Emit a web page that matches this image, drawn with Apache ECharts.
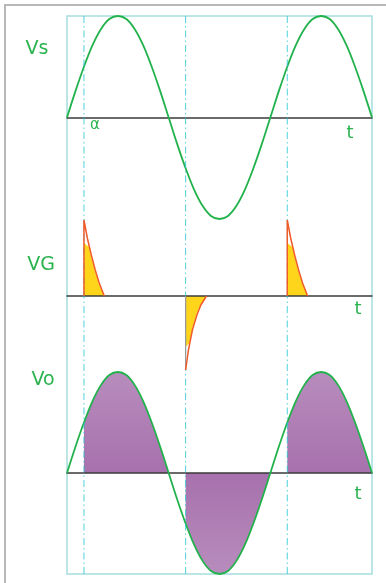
<!DOCTYPE html>
<html>
<head>
<meta charset="utf-8">
<script src="https://cdn.jsdelivr.net/npm/echarts@6/dist/echarts.min.js"></script>
<style>
html,body{margin:0;padding:0;background:#fff;}
#c{width:386px;height:583px;}
</style>
</head>
<body>
<div id="c"></div>
<script>
// ---- data (angles in degrees, amplitudes relative to peak) ----
const angles = [0,15,30,45,60,75,90,105,120,135,150,165,180,195,210,225,240,255,270,285,300,315,330,345,360,375,390,405,420,435,450,465,480,495,510,525,540];
const vsValues = [0,0.26,0.5,0.71,0.87,0.97,1,0.97,0.87,0.71,0.5,0.26,0,-0.26,-0.5,-0.71,-0.87,-0.97,-1,-0.97,-0.87,-0.71,-0.5,-0.26,0,0.26,0.5,0.71,0.87,0.97,1,0.97,0.87,0.71,0.5,0.26,0];
const voValues = [0,0.26,0.5,0.71,0.87,0.97,1,0.97,0.87,0.71,0.5,0.26,0,-0.26,-0.5,-0.71,-0.87,-0.97,-1,-0.97,-0.87,-0.71,-0.5,-0.26,0,0.26,0.5,0.71,0.87,0.97,1,0.97,0.87,0.71,0.5,0.26,0];
const firingAngles = [30,210,390];          // alpha, 180+alpha, 360+alpha
const conductionEnds = [180,360,540];
const posPulseAngles = [30,390];
const negPulseAngles = [210];
const pulseOffsets = [0,6,13,20,27,36];
const pulseRed = [0.76,0.58,0.41,0.26,0.13,0];
const pulseYellowOffsets = [0,9,13,20,27,36];
const pulseYellow = [0.53,0.49,0.39,0.24,0.12,0];
const negOffsets = [0,5,12,20,27,37];
const negRed = [-0.74,-0.54,-0.34,-0.19,-0.09,0];
const negYellowOffsets = [0,7,12,20,27,37];
const negYellow = [-0.51,-0.47,-0.32,-0.17,-0.08,0];
const labels = {vs:'Vs', vg:'VG', vo:'Vo', alpha:'α', t:'t'};

// ---- build ----
const GREEN = '#22b24c', TEXTG = '#2bb34f', RED = '#f15a29', YEL = '#ffd51c', TEAL = '#a6dede', DASH = '#22c6d0';
const chart = echarts.init(document.getElementById('c'), null, {renderer:'canvas'});

function pairs(xs, ys){ return xs.map((x,i)=>[x, ys[i]]); }
const vsData = pairs(angles, vsValues);
const voData = pairs(angles, voValues);

const xBase = {type:'value', min:0, max:540, axisTick:{show:false}, axisLabel:{show:false}, splitLine:{show:false}};
const yBase = {type:'value', min:-1, max:1, axisLine:{show:false}, axisTick:{show:false}, axisLabel:{show:false}, splitLine:{show:false}};
const axisLine = {show:true, onZero:true, lineStyle:{color:'#3a3a3a', width:1.5}};

const series = [];
// dash-dot firing lines spanning the frame (one line series per firing angle)
firingAngles.forEach(a=>{
  series.push({type:'line', xAxisIndex:0, yAxisIndex:0, silent:true, symbol:'none', z:6,
    data:[[a,0],[a,1]], color:DASH,
    lineStyle:{color:DASH, width:1, opacity:0.8, type:[7,3,1.5,3]}});
});

// Vo conduction fills
firingAngles.forEach((a,i)=>{
  const end = conductionEnds[i];
  const seg = voData.filter(p=>p[0]>=a && p[0]<=end);
  const positive = seg[1][1] > 0;
  series.push({type:'line', xAxisIndex:3, yAxisIndex:3, data:seg, smooth:0.35, symbol:'none',
    lineStyle:{width:0, opacity:0}, z:2,
    areaStyle:{opacity:1, color:new echarts.graphic.LinearGradient(0,0,0,1,
      positive ? [{offset:0,color:'#b88cbd'},{offset:1,color:'#a771ad'}]
               : [{offset:0,color:'#a771ad'},{offset:1,color:'#b88cbd'}])}});
});

// Vs and Vo curves
series.push({type:'line', xAxisIndex:1, yAxisIndex:1, data:vsData, smooth:0.35, symbol:'none', z:5,
  lineStyle:{color:GREEN, width:1.8}});
series.push({type:'line', xAxisIndex:3, yAxisIndex:3, data:voData, smooth:0.35, symbol:'none', z:5,
  lineStyle:{color:GREEN, width:1.8}});

// gate pulses
posPulseAngles.forEach(a=>{
  series.push({type:'line', xAxisIndex:2, yAxisIndex:2, symbol:'none', z:3,
    data: pulseYellowOffsets.map((o,i)=>[a+o, pulseYellow[i]]),
    lineStyle:{width:0, opacity:0}, areaStyle:{color:YEL, opacity:1}});
  series.push({type:'line', xAxisIndex:2, yAxisIndex:2, symbol:'none', z:7,
    data: [[a,0]].concat(pulseOffsets.map((o,i)=>[a+o, pulseRed[i]])),
    lineStyle:{color:RED, width:1.5}});
});
negPulseAngles.forEach(a=>{
  series.push({type:'line', xAxisIndex:2, yAxisIndex:2, symbol:'none', z:3,
    data: negYellowOffsets.map((o,i)=>[a+o, negYellow[i]]),
    lineStyle:{width:0, opacity:0}, areaStyle:{color:YEL, opacity:1}});
  series.push({type:'line', xAxisIndex:2, yAxisIndex:2, symbol:'none', z:7,
    data: [[a,0],[a,negRed[0]]], lineStyle:{color:'#9a9a9a', width:1.2}});
  series.push({type:'line', xAxisIndex:2, yAxisIndex:2, symbol:'none', z:7,
    data: negOffsets.map((o,i)=>[a+o, negRed[i]]),
    lineStyle:{color:RED, width:1.5}});
});

const txt = (text, x, y, size) => ({type:'text', x, y, z:10,
  style:{text, fill:TEXTG, font:size+'px "DejaVu Sans"', textAlign:'center', textVerticalAlign:'middle'}});

chart.setOption({
  animation:false,
  backgroundColor:'#ffffff',
  grid:[
    {left:67, top:16, width:305, height:558, show:true, borderColor:TEAL, borderWidth:1.5, backgroundColor:'transparent'},
    {left:67, top:16, width:305, height:203},
    {left:67, top:196, width:305, height:200},
    {left:67, top:372, width:305, height:202}
  ],
  xAxis:[
    Object.assign({gridIndex:0, axisLine:{show:false}}, xBase),
    Object.assign({gridIndex:1, axisLine:axisLine, z:3}, xBase),
    Object.assign({gridIndex:2, axisLine:axisLine, z:3}, xBase),
    Object.assign({gridIndex:3, axisLine:axisLine, z:3}, xBase)
  ],
  yAxis:[
    Object.assign({}, yBase, {gridIndex:0, min:0, max:1}),
    Object.assign({}, yBase, {gridIndex:1}),
    Object.assign({}, yBase, {gridIndex:2}),
    Object.assign({}, yBase, {gridIndex:3})
  ],
  series: series,
  graphic:[
    {type:'rect', z:0, shape:{x:5, y:5, width:420, height:620}, style:{fill:'none', stroke:'#b8b8b8', lineWidth:2}},
    txt(labels.vs, 37, 49, 19),
    txt(labels.vg, 41, 265, 19),
    txt(labels.vo, 43, 380, 19),
    txt(labels.alpha, 95, 125, 15),
    txt(labels.t, 350, 133, 18),
    txt(labels.t, 358, 309, 18),
    txt(labels.t, 358, 494, 18)
  ]
});
</script>
</body>
</html>
